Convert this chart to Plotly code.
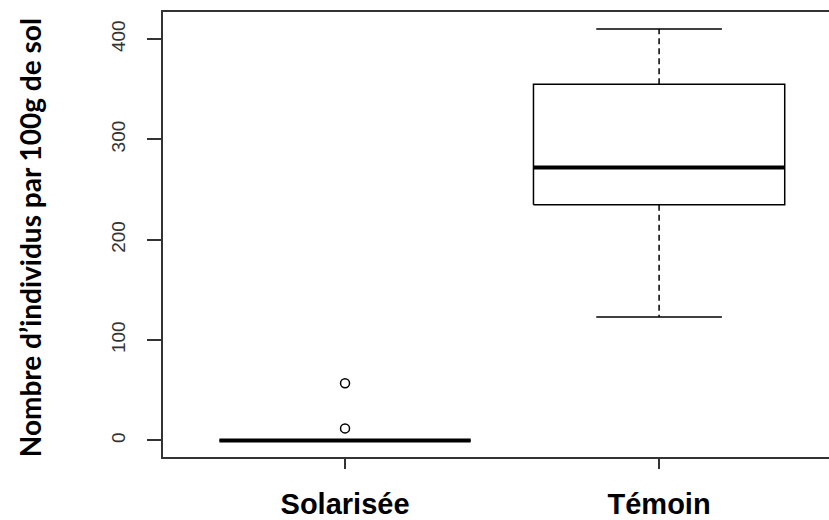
import plotly.graph_objects as go

categories = ["Solarisée", "Témoin"]
positions = [1, 2]
lower_whisker = [0, 123]
q1 = [0, 235]
median = [0, 272]
q3 = [0, 355]
upper_whisker = [0, 410]
outliers = [[12, 57], []]

y_ticks = [0, 100, 200, 300, 400]

box_width = 0.8
cap_width = 0.4

fig = go.Figure()
for i, p in enumerate(positions):
    hw = box_width / 2
    hc = cap_width / 2
    # whiskers (dashed)
    fig.add_trace(go.Scatter(
        x=[p, p, None, p, p],
        y=[q3[i], upper_whisker[i], None, q1[i], lower_whisker[i]],
        mode="lines", line=dict(color="black", width=1.5, dash="6px,4px"),
        hoverinfo="skip", showlegend=False))
    # caps
    fig.add_trace(go.Scatter(
        x=[p - hc, p + hc, None, p - hc, p + hc],
        y=[upper_whisker[i], upper_whisker[i], None, lower_whisker[i], lower_whisker[i]],
        mode="lines", line=dict(color="black", width=1.5),
        hoverinfo="skip", showlegend=False))
    # box
    fig.add_trace(go.Scatter(
        x=[p - hw, p + hw, p + hw, p - hw, p - hw],
        y=[q1[i], q1[i], q3[i], q3[i], q1[i]],
        mode="lines", line=dict(color="black", width=1.5),
        fill="toself", fillcolor="white",
        hoverinfo="skip", showlegend=False))
    # median
    fig.add_trace(go.Scatter(
        x=[p - hw, p + hw], y=[median[i], median[i]],
        mode="lines", line=dict(color="black", width=4),
        hoverinfo="skip", showlegend=False))
    # outliers
    if outliers[i]:
        fig.add_trace(go.Scatter(
            x=[p] * len(outliers[i]), y=outliers[i], mode="markers",
            marker=dict(symbol="circle-open", size=9, color="black",
                        line=dict(width=1.5, color="black")),
            hoverinfo="skip", showlegend=False))

fig.update_layout(
    width=829, height=520,
    margin=dict(l=163, r=0, t=12, b=57),
    paper_bgcolor="white", plot_bgcolor="white",
    xaxis=dict(
        range=[0.4204, 2.541], tickvals=positions, ticktext=categories,
        showgrid=False, zeroline=False,
        showline=True, linecolor="#333333", linewidth=2, mirror=True,
        ticks="outside", ticklen=10, tickwidth=1.5, tickcolor="#333333",
        tickfont=dict(family="Liberation Sans", size=29, color="black", weight="bold"),
        ticklabelstandoff=10,
    ),
    yaxis=dict(
        range=[-16.5, 427], tickvals=y_ticks, ticktext=[str(v) for v in y_ticks],
        showgrid=False, zeroline=False,
        showline=True, linecolor="#333333", linewidth=2,
        ticks="outside", ticklen=14, tickwidth=1.5, tickcolor="#333333",
        tickangle=-90,
        tickfont=dict(family="Liberation Sans", size=19, color="#333333"),
        ticklabelstandoff=14,
    ),
    annotations=[dict(
        text="<b>Nombre d’individus par 100g de sol</b>",
        xref="paper", yref="paper", x=(30 - 163) / 666, y=(462.7 - 241) / 451,
        xanchor="center", yanchor="middle", textangle=-90, showarrow=False,
        font=dict(family="Lato", size=28, color="black"),
    )],
)

fig.write_html("out.html")
